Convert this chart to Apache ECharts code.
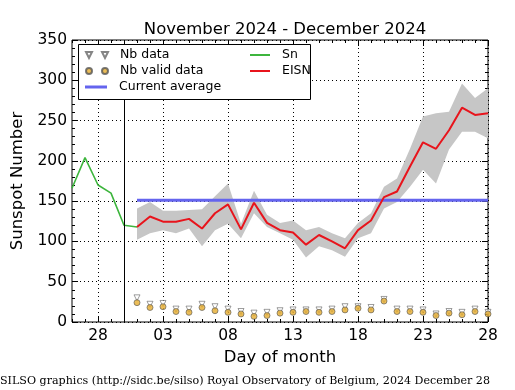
<!DOCTYPE html>
<html>
<head>
<meta charset="utf-8">
<script src="https://cdn.jsdelivr.net/npm/echarts@6/dist/echarts.min.js"></script>
<style>html,body{margin:0;padding:0;background:#fff}#c{width:515px;height:390px}</style>
</head>
<body>
<div id="c"></div>
<script>
// Days from 2024 Nov 26 to 2024 Dec 28
const days = ['2024-11-26','2024-11-27','2024-11-28','2024-11-29','2024-11-30',
  '2024-12-01','2024-12-02','2024-12-03','2024-12-04','2024-12-05','2024-12-06','2024-12-07',
  '2024-12-08','2024-12-09','2024-12-10','2024-12-11','2024-12-12','2024-12-13','2024-12-14',
  '2024-12-15','2024-12-16','2024-12-17','2024-12-18','2024-12-19','2024-12-20','2024-12-21',
  '2024-12-22','2024-12-23','2024-12-24','2024-12-25','2024-12-26','2024-12-27','2024-12-28'];
const majorTickDays = ['2024-11-28','2024-12-03','2024-12-08','2024-12-13','2024-12-18','2024-12-23','2024-12-28'];
const yTicks = [0, 50, 100, 150, 200, 250, 300, 350];

const sn = [166, 204, 170, 160, 120, 118, null, null, null, null, null, null, null, null, null, null, null,
  null, null, null, null, null, null, null, null, null, null, null, null, null, null, null, null];
const eisn = [null, null, null, null, null, 118, 131, 124.5, 124.5, 128, 116, 135, 146, 115, 148, 123, 114,
  111, 96, 108, 100, 91.5, 114, 126, 155, 162, 193, 223, 215, 238, 266, 257, 259];
const bandLow = [null, null, null, null, null, 102, 110, 114, 110, 116, 94, 114, 122, 104, 135, 118, 110,
  102, 80, 94, 89, 81, 104, 110, 141, 149, 168, 189, 172, 214, 236, 236, 228];
const bandHigh = [null, null, null, null, null, 141, 149, 138, 138, 139, 140, 156, 172, 122, 163, 133, 123,
  126, 114, 118, 110, 104, 123, 135, 168, 178, 215, 255, 259, 261, 296, 278, 290];
const nbData = [null, null, null, null, null, 30, 22, 23, 16, 16, 22, 19, 16, 13, 11, 12, 14,
  15, 15, 15, 16, 19, 19, 18, 28, 16, 16, 15, 10, 13, 12, 16, 12];
const nbValid = [null, null, null, null, null, 24, 18, 19, 13, 12, 18, 14, 12, 10, 7, 8, 11,
  12, 13, 12, 13, 15, 17, 15, 26, 13, 13, 12, 8, 11, 9, 13, 10];
const currentAverage = 151;
const averageSpan = ['2024-12-01', '2024-12-28'];
const lastSnDay = '2024-11-30';

const bandWidth = bandHigh.map((h, i) => (h == null ? null : h - bandLow[i]));
const isMajor = (i) => majorTickDays.indexOf(days[i]) >= 0;
const FONT = 'DejaVu Sans';

const chart = echarts.init(document.getElementById('c'), null, {renderer: 'canvas'});

const baseX = {
  type: 'category', data: days, boundaryGap: false, gridIndex: 0,
  axisLine: {show: false}, axisLabel: {show: false}, splitLine: {show: false}
};
const legendText = {fontFamily: FONT, fontSize: 12.5, color: '#000', lineHeight: 16, padding: [0, 0, 0, 7]};

chart.setOption({
  animation: false,
  backgroundColor: '#fff',
  textStyle: {fontFamily: FONT},
  title: {
    text: 'November 2024 - December 2024', left: 280, top: 16, textAlign: 'center',
    textStyle: {fontFamily: FONT, fontSize: 16.5, fontWeight: 'normal', color: '#000'}
  },
  grid: {left: 72, right: 27, top: 40, bottom: 68, show: true, borderColor: '#000', borderWidth: 1, backgroundColor: '#fff'},
  xAxis: [
    Object.assign({}, baseX, {
      position: 'bottom',
      axisTick: {show: true, inside: true, length: 6, interval: (i) => isMajor(i), lineStyle: {color: '#000'}},
      axisLabel: {show: true, interval: (i) => isMajor(i), formatter: (v) => v.slice(8), fontFamily: FONT, fontSize: 15.5, color: '#000', margin: 6},
      splitLine: {show: true, interval: (i) => isMajor(i), lineStyle: {color: '#000', type: [1, 3], width: 1}},
      name: 'Day of month', nameLocation: 'middle', nameGap: 27,
      nameTextStyle: {fontFamily: FONT, fontSize: 16.5, color: '#000'}
    }),
    Object.assign({}, baseX, {position: 'bottom', axisTick: {show: true, inside: true, length: 3, interval: 0, lineStyle: {color: '#000'}}}),
    Object.assign({}, baseX, {position: 'top', axisTick: {show: true, inside: true, length: 6, interval: (i) => isMajor(i), lineStyle: {color: '#000'}}}),
    Object.assign({}, baseX, {position: 'top', axisTick: {show: true, inside: true, length: 3, interval: 0, lineStyle: {color: '#000'}}})
  ],
  yAxis: [
    {
      type: 'value', position: 'left', min: yTicks[0], max: yTicks[yTicks.length - 1], interval: 50,
      axisLine: {show: false},
      axisTick: {show: true, inside: true, length: 6, lineStyle: {color: '#000'}},
      minorTick: {show: true, splitNumber: 5, length: 3, lineStyle: {color: '#000'}},
      axisLabel: {fontFamily: FONT, fontSize: 15.5, color: '#000', margin: 5},
      splitLine: {show: true, lineStyle: {color: '#000', type: [1, 3], width: 1}},
      name: 'Sunspot Number', nameLocation: 'middle', nameGap: 42,
      nameTextStyle: {fontFamily: FONT, fontSize: 16.5, color: '#000'}
    },
    {
      type: 'value', position: 'right', min: yTicks[0], max: yTicks[yTicks.length - 1], interval: 50,
      axisLine: {show: false},
      axisTick: {show: true, inside: true, length: 6, lineStyle: {color: '#000'}},
      minorTick: {show: true, splitNumber: 5, length: 3, lineStyle: {color: '#000'}},
      axisLabel: {show: false}, splitLine: {show: false}
    }
  ],
  legend: [
    {
      left: 85, top: 47, orient: 'vertical', padding: 0, itemGap: 0, itemWidth: 22, itemHeight: 6,
      selectedMode: false, z: 20, textStyle: legendText,
      data: [
        {name: 'Nb data', icon: 'path://M0,0L6,0L3,6Z M16,0L22,0L19,6Z'},
        {name: 'Nb valid data', icon: 'path://M0,3a3,3 0 1,0 6,0a3,3 0 1,0 -6,0Z M16,3a3,3 0 1,0 6,0a3,3 0 1,0 -6,0Z'}
      ]
    },
    {
      left: 85, top: 79, orient: 'vertical', padding: 0, itemGap: 0, itemWidth: 22, itemHeight: 3,
      selectedMode: false, z: 20, textStyle: legendText,
      data: [{name: 'Current average', icon: 'rect'}]
    },
    {
      left: 250, top: 47, orient: 'vertical', padding: 0, itemGap: 0, itemWidth: 20, itemHeight: 2,
      selectedMode: false, z: 20, textStyle: legendText,
      data: [{name: 'Sn', icon: 'rect'}, {name: 'EISN', icon: 'rect'}]
    }
  ],
  graphic: [
    {type: 'rect', z: 15, shape: {x: 78.5, y: 44.5, width: 232, height: 55},
     style: {fill: '#fff', stroke: '#000', lineWidth: 1}},
    {type: 'text', left: 0, top: 376, z: 20,
     style: {text: 'SILSO graphics (http://sidc.be/silso) Royal Observatory of Belgium, 2024 December 28',
             fontFamily: 'DejaVu Serif', fontSize: 11.1, fill: '#000'}}
  ],
  series: [
    {name: 'bandLow', type: 'line', data: bandLow, stack: 'band', symbol: 'none', lineStyle: {opacity: 0}, z: 1, silent: true},
    {name: 'band', type: 'line', data: bandWidth, stack: 'band', symbol: 'none', lineStyle: {opacity: 0},
     areaStyle: {color: '#c6c6c6', opacity: 1}, z: 1, silent: true},
    {name: 'Current average', type: 'line', data: [[averageSpan[0], currentAverage], [averageSpan[1], currentAverage]],
     symbol: 'none', lineStyle: {color: '#6464ee', width: 3}, itemStyle: {color: '#6464ee'}, z: 3},
    {name: 'Sn', type: 'line', data: sn, symbol: 'none', lineStyle: {color: '#3db53d', width: 1.6}, itemStyle: {color: '#3db53d'}, z: 4},
    {name: 'EISN', type: 'line', data: eisn, symbol: 'none', lineStyle: {color: '#e8141c', width: 2}, itemStyle: {color: '#e8141c'}, z: 5,
     markLine: {silent: true, symbol: 'none', label: {show: false}, lineStyle: {color: '#000', type: 'solid', width: 1},
                data: [{xAxis: lastSnDay}]}},
    {name: 'Nb data', type: 'scatter', data: nbData, symbol: 'triangle', symbolRotate: 180, symbolSize: [6, 6],
     itemStyle: {color: '#ffffff', borderColor: '#666', borderWidth: 0.8}, z: 6},
    {name: 'Nb valid data', type: 'scatter', data: nbValid, symbol: 'circle', symbolSize: 6,
     itemStyle: {color: '#e6ac2e', borderColor: '#555', borderWidth: 0.8}, z: 7}
  ]
});
</script>
</body>
</html>
